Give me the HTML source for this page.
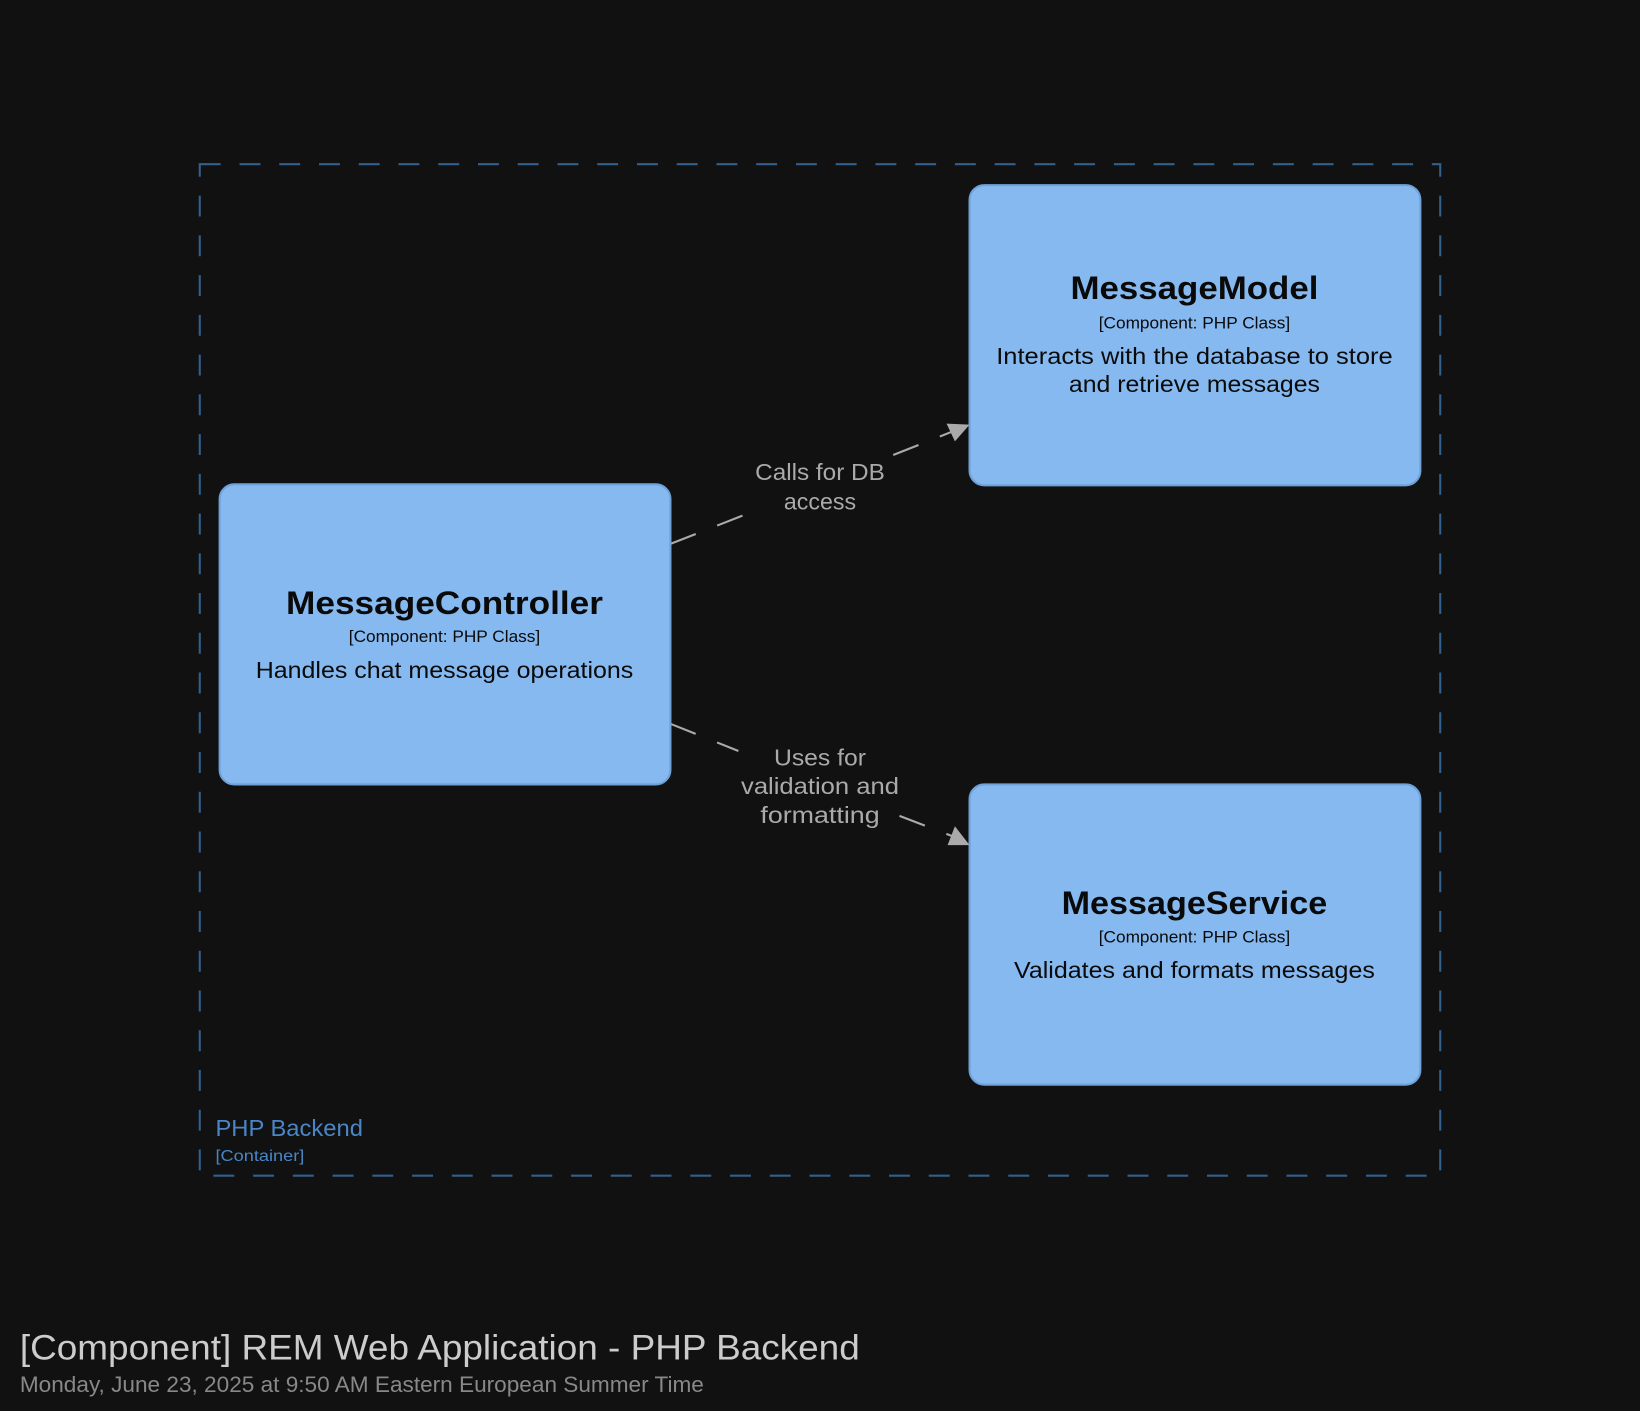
<!DOCTYPE html>
<html><head><meta charset="utf-8">
<style>
html,body{margin:0;padding:0;background:#111111;}
svg{display:block;}
text{font-family:"Liberation Sans","Noto Sans CJK SC",sans-serif;}
</style></head>
<body>
<svg width="1640" height="1411" viewBox="0 0 1568 1349" preserveAspectRatio="none" xmlns="http://www.w3.org/2000/svg">
<rect x="0" y="0" width="1568" height="1349" fill="#111111"/>
<rect x="191" y="157" width="1186" height="967" fill="none" stroke="#325f8c" stroke-width="2" stroke-dasharray="20,18"/>
<text x="206" y="1086" font-size="22" fill="#4a86c6" textLength="141" lengthAdjust="spacingAndGlyphs">PHP Backend</text>
<text x="206" y="1110" font-size="15" fill="#4a86c6" textLength="85" lengthAdjust="spacingAndGlyphs">[Container]</text>

<g stroke="#aaaaaa" stroke-width="2" fill="none" stroke-dasharray="26,22">
<line x1="641" y1="520" x2="720" y2="489"/>
<line x1="854" y1="435" x2="912" y2="412"/>
<line x1="641" y1="692" x2="706" y2="718"/>
<line x1="860" y1="780" x2="912" y2="800"/>
</g>
<polygon points="927,406 905,405 913,422" fill="#aaaaaa"/>
<polygon points="927,808 913,790 906,808" fill="#aaaaaa"/>
<g font-size="22" fill="#aaaaaa" text-anchor="middle" lengthAdjust="spacingAndGlyphs">
<text x="784" y="459" textLength="124" lengthAdjust="spacingAndGlyphs">Calls for DB</text>
<text x="784" y="487" textLength="69" lengthAdjust="spacingAndGlyphs">access</text>
<text x="784" y="732" textLength="88" lengthAdjust="spacingAndGlyphs">Uses for</text>
<text x="784" y="759" textLength="151" lengthAdjust="spacingAndGlyphs">validation and</text>
<text x="784" y="787" textLength="114" lengthAdjust="spacingAndGlyphs">formatting</text>
</g>

<g fill="#85b9f0" stroke="#6ea2d8" stroke-width="2">
<rect x="927" y="177" width="431" height="287" rx="14"/>
<rect x="210" y="463" width="431" height="287" rx="14"/>
<rect x="927" y="750" width="431" height="287" rx="14"/>
</g>
<g text-anchor="middle" fill="#0a0a0a">
<text x="1142" y="286" font-size="31" font-weight="bold" textLength="237" lengthAdjust="spacingAndGlyphs">MessageModel</text>
<text x="1142" y="314" font-size="16" textLength="183" lengthAdjust="spacingAndGlyphs">[Component: PHP Class]</text>
<text x="1142" y="348" font-size="22" textLength="379" lengthAdjust="spacingAndGlyphs">Interacts with the database to store</text>
<text x="1142" y="375" font-size="22" textLength="240" lengthAdjust="spacingAndGlyphs">and retrieve messages</text>

<text x="425" y="587" font-size="31" font-weight="bold" textLength="303" lengthAdjust="spacingAndGlyphs">MessageController</text>
<text x="425" y="614" font-size="16" textLength="183" lengthAdjust="spacingAndGlyphs">[Component: PHP Class]</text>
<text x="425" y="648" font-size="22" textLength="361" lengthAdjust="spacingAndGlyphs">Handles chat message operations</text>

<text x="1142" y="874" font-size="31" font-weight="bold" textLength="254" lengthAdjust="spacingAndGlyphs">MessageService</text>
<text x="1142" y="901" font-size="16" textLength="183" lengthAdjust="spacingAndGlyphs">[Component: PHP Class]</text>
<text x="1142" y="935" font-size="22" textLength="345" lengthAdjust="spacingAndGlyphs">Validates and formats messages</text>
</g>

<text x="19" y="1300" font-size="34" fill="#cccccc" textLength="803" lengthAdjust="spacingAndGlyphs">[Component] REM Web Application - PHP Backend</text>
<text x="19" y="1331" font-size="21" fill="#888888" textLength="654" lengthAdjust="spacingAndGlyphs">Monday, June 23, 2025 at 9:50 AM Eastern European Summer Time</text>
</svg>
</body></html>
